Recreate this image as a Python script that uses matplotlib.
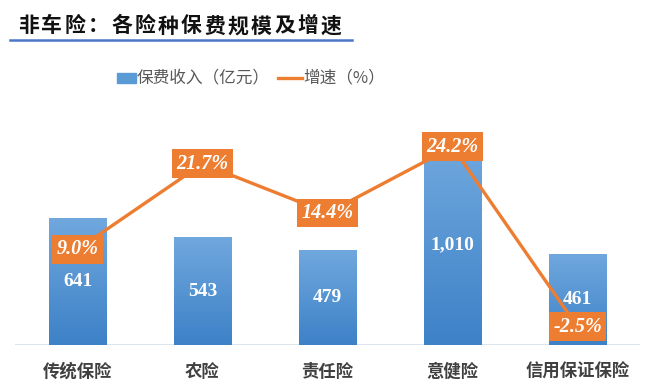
import matplotlib
matplotlib.use("Agg")
import matplotlib.pyplot as plt
import numpy as np
from matplotlib.colors import LinearSegmentedColormap

categories = ["传统保险", "农险", "责任险", "意健险", "信用保证保险"]
premium = [641, 543, 479, 1010, 461]
growth = [9.0, 21.7, 14.4, 24.2, -2.5]
premium_labels = ["641", "543", "479", "1,010", "461"]
growth_labels = ["9.0%", "21.7%", "14.4%", "24.2%", "-2.5%"]

title = "非车险：各险种保费规模及增速"
legend_bar = "保费收入（亿元）"
legend_line = "增速（%）"

CJK = ["Noto Sans CJK SC", "DejaVu Sans"]
SERIF = ["Liberation Serif", "DejaVu Serif"]
plt.rcParams['font.family'] = CJK

BLUE_TOP = "#70A8DE"
BLUE_BOT = "#3D81C7"
ORANGE = "#ED7D31"

fig = plt.figure(figsize=(6.6, 3.9), dpi=100)
fig.patch.set_facecolor("white")
ax = fig.add_axes([15/660, 45/390, 625/660, 245/390])
ax2 = ax.twinx()

x = np.arange(len(categories))
bars = ax.bar(x, premium, width=0.46, color="none", edgecolor="none", zorder=2)
grad = np.linspace(0, 1, 256).reshape(-1, 1)
cmap = LinearSegmentedColormap.from_list("g", [BLUE_BOT, BLUE_TOP])
for b in bars:
    x0, y0 = b.get_x(), b.get_y()
    w, h = b.get_width(), b.get_height()
    im = ax.imshow(grad, extent=[x0, x0 + w, y0, y0 + h], origin="lower",
                   cmap=cmap, aspect="auto", zorder=2)
    im.set_clip_path(b)

ax.set_xlim(-0.5, len(categories) - 0.5)
ax.set_ylim(0, 1237)
for xi, v, lab in zip(x, premium, premium_labels):
    ax.text(xi, v / 2, lab, ha="center", va="center", color="white",
            fontsize=14, fontweight="bold", family=SERIF, zorder=3)

ax.axhline(0, color="#D6DEE8", lw=1.2, zorder=1)
for s in ax.spines.values():
    s.set_visible(False)
for s in ax2.spines.values():
    s.set_visible(False)
ax.set_yticks([])
ax2.set_yticks([])
ax.set_xticks(x)
ax.set_xticklabels(categories, fontsize=12.5, fontweight="bold", color="#404040")
ax.tick_params(axis="x", length=0, pad=13)

ax2.set_ylim(-5.19, 31.16)
ax2.plot(x, growth, color=ORANGE, lw=2.4, zorder=3)
for xi, v, lab in zip(x, growth, growth_labels):
    ax2.text(xi, v, lab, ha="center", va="center", color="white",
             fontsize=14.5, fontweight="bold", style="italic", family=SERIF,
             bbox=dict(boxstyle="square,pad=0.22", fc=ORANGE, ec="none"),
             zorder=5)

# Title with letter spacing
tx = 18
for ch in title:
    fig.text(tx / 660, 1 - 26 / 390, ch, fontsize=15, fontweight="bold",
             color="#111111", ha="left", va="center")
    tx += 23.3
fig.add_artist(plt.Line2D([10 / 660, 352 / 660], [1 - 40 / 390, 1 - 40 / 390],
                          color="#4A78C6", lw=1.8))

# Legend
ly = 1 - 78 / 390
fig.add_artist(plt.Rectangle((117 / 660, ly - 5 / 390), 19 / 660, 10 / 390,
                             color="#5B9BD5", transform=fig.transFigure))
fig.text(137 / 660, ly, legend_bar, fontsize=12, color="#595959",
         ha="left", va="center")
fig.add_artist(plt.Line2D([278 / 660, 302 / 660], [ly, ly], color=ORANGE, lw=2.4))
fig.text(303 / 660, ly, legend_line, fontsize=12, color="#595959",
         ha="left", va="center")

fig.savefig("out.png", dpi=100)
